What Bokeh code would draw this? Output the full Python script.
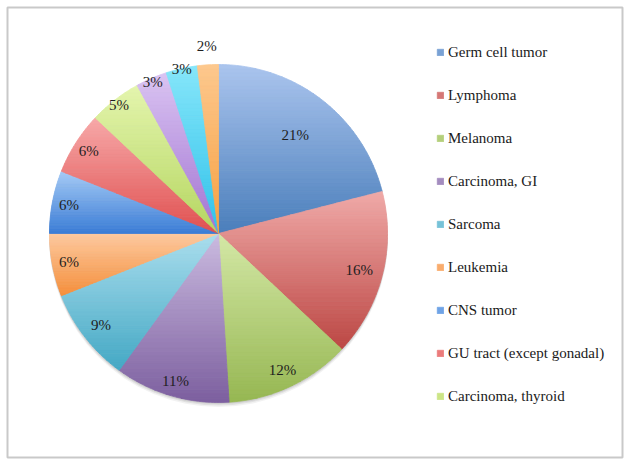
import numpy as np
from bokeh.plotting import figure
from bokeh.models import ColumnDataSource, Legend, LegendItem, Range1d
from bokeh.embed import file_html
from bokeh.resources import INLINE
from bokeh.core.properties import value

# ---------------- data ----------------
categories = ["Germ cell tumor", "Lymphoma", "Melanoma", "Carcinoma, GI", "Sarcoma",
              "Leukemia", "CNS tumor", "GU tract (except gonadal)", "Carcinoma, thyroid"]
values = [21, 16, 12, 11, 9, 6, 6, 6, 5, 3, 3, 2]
pct_labels = ["21%", "16%", "12%", "11%", "9%", "6%", "6%", "6%", "5%", "3%", "3%", "2%"]

# ---------------- style ----------------
top_colors = ["#abc5ee", "#f0aaa8", "#d4e8a6", "#cbbbe0", "#abdeee", "#fdcaa0",
              "#a6cbf6", "#f7a9a9", "#e4f5ae", "#dac4f2", "#86e6fa", "#fdc88e"]
bot_colors = ["#4a7ebb", "#bc4744", "#96b752", "#7c5f9f", "#43a8c4", "#f58f3c",
              "#3b7dd6", "#e05050", "#b5d660", "#a273d2", "#2fc2ea", "#f7a040"]
label_r = [0.74, 0.86, 0.89, 0.91, 0.88, 0.90, 0.90, 0.91, 0.96, 0.98, 1.0, 1.11]

FW, FH = 615, 450          # frame size (inside the grey border)
cx, cy, R = 211, 224, 169
FONT = "Liberation Serif"


def hex2rgb(h):
    h = h.lstrip("#")
    return np.array([int(h[i:i + 2], 16) for i in (0, 2, 4)], dtype=float)


def rgb2hex(c):
    c = np.clip(np.round(c), 0, 255).astype(int)
    return "#%02x%02x%02x" % tuple(c)


def clip(poly, yv, keep_above):
    out = []
    n = len(poly)
    for i in range(n):
        a = poly[i]
        b = poly[(i + 1) % n]
        ina = a[1] >= yv if keep_above else a[1] <= yv
        inb = b[1] >= yv if keep_above else b[1] <= yv
        if ina:
            out.append(a)
        if ina != inb:
            t = (yv - a[1]) / (b[1] - a[1])
            out.append((a[0] + t * (b[0] - a[0]), yv))
    return out


p = figure(width=630, height=465, x_range=Range1d(0, FW), y_range=Range1d(0, FH),
           x_axis_type=None, y_axis_type=None, toolbar_location=None,
           output_backend="svg", min_border_left=7, min_border_top=7,
           min_border_right=8, min_border_bottom=8)
p.outline_line_color = "#c9c9c9"
p.outline_line_width = 2
p.background_fill_color = "white"
p.border_fill_color = "white"

# soft shadow under the pie
for k, a in [(4, 0.05), (2.5, 0.07), (1.2, 0.08)]:
    p.circle(x=[cx], y=[cy - k], radius=R + 0.5, fill_color="#000000",
             fill_alpha=a, line_color=None)

total = float(sum(values))
cum = np.cumsum([0] + values) / total
renderers = []
NB = 40
for i, v in enumerate(values):
    a0, a1 = cum[i] * 2 * np.pi, cum[i + 1] * 2 * np.pi
    n = max(4, int((a1 - a0) / (2 * np.pi) * 360))
    th = np.linspace(a0, a1, n)
    poly = [(cx, cy)] + [(cx + R * np.sin(t), cy + R * np.cos(t)) for t in th]
    ys = [q[1] for q in poly]
    ymin, ymax = min(ys), max(ys)
    ct, cb = hex2rgb(top_colors[i]), hex2rgb(bot_colors[i])
    xs_l, ys_l, cols = [], [], []
    edges = np.linspace(ymax, ymin, NB + 1)
    for b in range(NB):
        hi, lo = edges[b], edges[b + 1]
        part = clip(clip(poly, lo, True), hi, False)
        if len(part) < 3:
            continue
        t = (ymax - (hi + lo) / 2) / (ymax - ymin)
        xs_l.append([q[0] for q in part])
        ys_l.append([q[1] for q in part])
        cols.append(rgb2hex(ct * (1 - t) + cb * t))
    src = ColumnDataSource(dict(xs=xs_l, ys=ys_l, c=cols))
    r = p.patches("xs", "ys", source=src, fill_color="c", line_color="c", line_width=0.8)
    renderers.append((r, len(cols)))

# percentage labels
mid = (cum[:-1] + cum[1:]) / 2 * 2 * np.pi
lx = [cx + R * label_r[i] * np.sin(m) for i, m in enumerate(mid)]
ly = [cy + R * label_r[i] * np.cos(m) for i, m in enumerate(mid)]
p.text(x=lx, y=ly, text=pct_labels, text_align="center", text_baseline="middle",
       text_font=value(FONT), text_font_size="15px", text_color="#1e1e1e")

# legend (first nine categories)
items = []
for i, name in enumerate(categories):
    r, nb = renderers[i]
    items.append(LegendItem(label=name, renderers=[r], index=nb // 2))
legend = Legend(items=items, location=(429, 51), glyph_width=8, glyph_height=8,
                label_height=20, spacing=23, padding=0, margin=0,
                label_standoff=4, label_text_font=FONT, label_text_font_size="15px",
                label_text_color="#1a1a1a", border_line_color=None,
                background_fill_alpha=0)
p.add_layout(legend)

open("out.html", "w").write(file_html(p, INLINE))
